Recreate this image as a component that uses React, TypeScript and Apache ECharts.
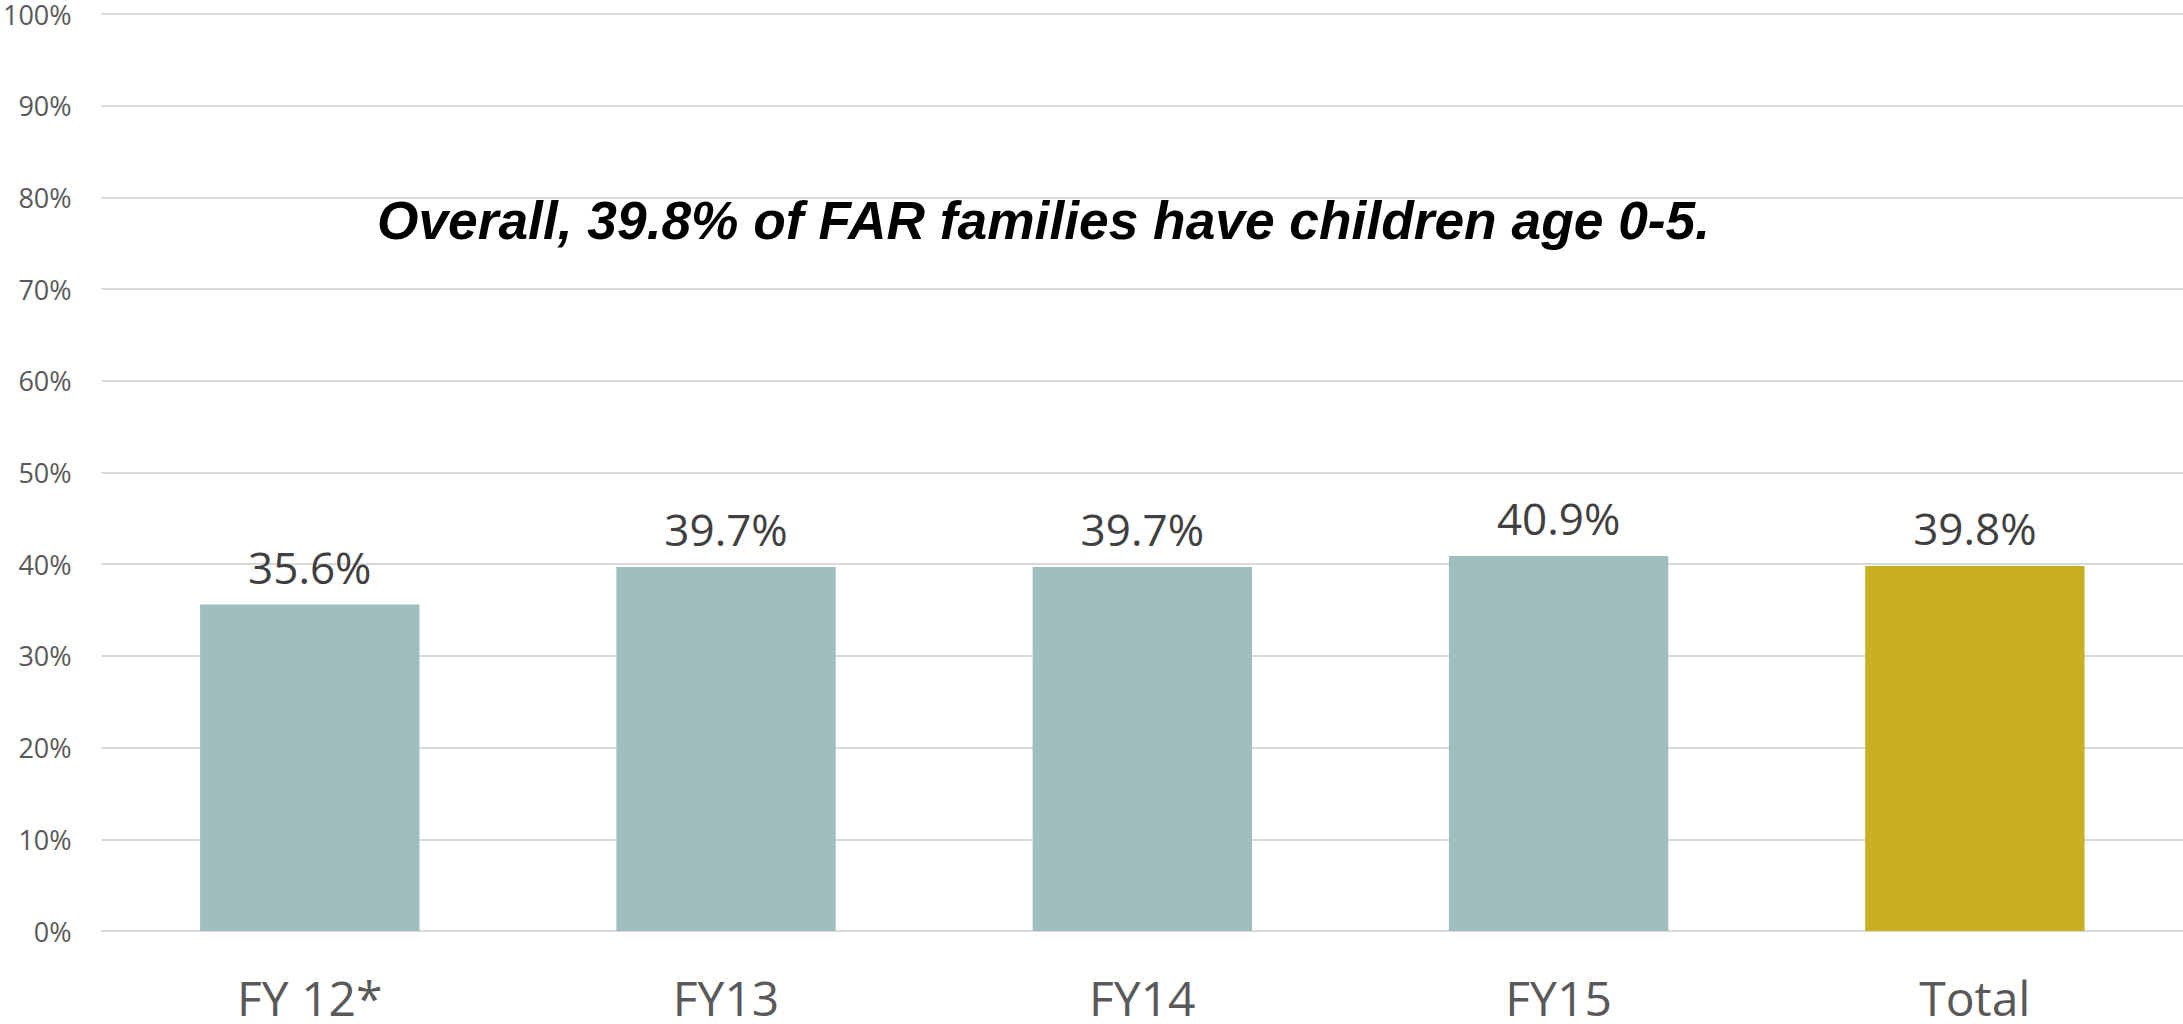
import React, { useEffect, useRef } from "react";
import * as echarts from "echarts";

const categories = ["FY 12*", "FY13", "FY14", "FY15", "Total"];
const values = [35.6, 39.7, 39.7, 40.9, 39.8];
const barColors = ["#9FBFBE", "#9FBFBE", "#9FBFBE", "#9FBFBE", "#C9AF22"];
const yTicks = [0, 10, 20, 30, 40, 50, 60, 70, 80, 90, 100];
const annotation = "Overall, 39.8% of FAR families have children age 0-5.";

export default function App() {
  const ref = useRef<HTMLDivElement>(null);
  useEffect(() => {
    if (!ref.current) return;
    const chart = echarts.init(ref.current, undefined, { renderer: "svg" });
    chart.setOption({
      animation: false,
      backgroundColor: "#ffffff",
      grid: { left: 101, right: -8, top: 14, bottom: 93, containLabel: false },
      xAxis: {
        type: "category",
        data: categories,
        axisLine: { show: true, lineStyle: { color: "#D9D9D9", width: 2 } },
        axisTick: { show: false },
        axisLabel: {
          color: "#595959",
          fontFamily: "Open Sans",
          fontSize: 48,
          lineHeight: 38,
          margin: 47,
        },
      },
      yAxis: {
        type: "value",
        min: yTicks[0],
        max: yTicks[yTicks.length - 1],
        interval: 10,
        axisLine: { show: false },
        axisTick: { show: false },
        splitLine: { lineStyle: { color: "#D9D9D9", width: 2 } },
        axisLabel: {
          color: "#595959",
          fontFamily: "Open Sans",
          fontSize: 27,
          lineHeight: 20,
          margin: 30,
          formatter: (v: number) => `${v}%`,
        },
      },
      series: [
        {
          type: "bar",
          barWidth: "52.7%",
          data: values.map((v, i) => ({ value: v, itemStyle: { color: barColors[i] } })),
          label: {
            show: true,
            position: "top",
            distance: 16,
            color: "#404040",
            fontFamily: "Open Sans",
            fontSize: 44,
            formatter: (p: any) => `${Number(p.value).toFixed(1)}%`,
          },
        },
      ],
      graphic: [
        {
          type: "text",
          left: 377,
          top: 194,
          style: {
            text: annotation,
            fontFamily: "Liberation Sans, Arial",
            fontSize: 53.3,
            fontWeight: "bold",
            fontStyle: "italic",
            fill: "#000000",
          },
        },
      ],
    });
    return () => chart.dispose();
  }, []);
  return (
    <div
      ref={ref}
      style={{ position: "absolute", left: 0, top: 0, width: 2183, height: 1024 }}
    />
  );
}
